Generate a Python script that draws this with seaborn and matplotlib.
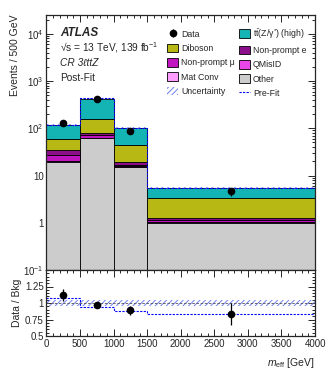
# Post-fit m_eff distribution in the CR 3l ttZ control region, with Data/Bkg ratio panel

import numpy as np
import pandas as pd
import matplotlib
matplotlib.use("Agg")
import matplotlib.pyplot as plt
import seaborn as sns
from matplotlib.patches import Patch
from matplotlib.lines import Line2D
from matplotlib.ticker import MultipleLocator, FixedLocator, FuncFormatter, LogLocator, NullFormatter

# Binning (GeV)
edges = [0, 500, 1000, 1500, 4000]
centers = [250, 750, 1250, 2750]

# Background yields per 500 GeV
other = [19.5, 61.0, 15.3, 1.00]
mat_conv = [0.4, 0.8, 0.2, 0.02]
qmisid = [0.5, 1.0, 0.3, 0.02]
np_mu = [7.0, 8.0, 1.3, 0.08]
np_e = [7.0, 10.0, 2.0, 0.13]
diboson = [24.0, 78.0, 25.0, 2.05]
ttz = [57.0, 268.0, 56.0, 2.20]

# Data and pre-fit
data = [127, 412, 88, 4.6]
data_err = [11.3, 20.3, 9.4, 0.96]
prefit_total = [118, 437, 101, 5.5]

# Ratio panel
ratio = [1.12, 0.97, 0.89, 0.83]
ratio_err = [0.09, 0.04, 0.07, 0.17]
prefit_ratio = [1.08, 0.94, 0.88, 0.84]
unc_ratio = [0.045, 0.045, 0.045, 0.045]

# stacked top -> bottom (seaborn puts the first hue level on top)
procs = ["ttZ", "Diboson", "Non-prompt e", "Non-prompt mu", "QMisID", "Mat Conv", "Other"]
yields = [ttz, diboson, np_e, np_mu, qmisid, mat_conv, other]
colors = {"ttZ": "#14b4b4", "Diboson": "#b8b814", "Non-prompt e": "#8b0f8b",
          "Non-prompt mu": "#c014c0", "QMisID": "#e846e8", "Mat Conv": "#ff9cff",
          "Other": "#cccccc"}

df = pd.DataFrame({
    "x": np.tile(centers, len(procs)),
    "w": np.concatenate(yields),
    "process": np.repeat(procs, len(centers)),
})

sns.set_style("ticks")
plt.rcParams["font.family"] = ["Liberation Sans", "DejaVu Sans"]
plt.rcParams["mathtext.fontset"] = "custom"
plt.rcParams["mathtext.rm"] = "Liberation Sans"
plt.rcParams["mathtext.it"] = "Liberation Sans:italic"
plt.rcParams["mathtext.bf"] = "Liberation Sans:bold"
plt.rcParams["hatch.linewidth"] = 0.7

fig = plt.figure(figsize=(3.32, 3.75), dpi=100)
ax = fig.add_axes([0.14, 0.28, 0.809, 0.68])
rax = fig.add_axes([0.14, 0.104, 0.809, 0.176])

ax.set_yscale("log")
sns.histplot(data=df, x="x", weights="w", hue="process", hue_order=procs,
             multiple="stack", bins=edges, palette=colors, alpha=1,
             edgecolor="black", linewidth=0.6, legend=False, ax=ax)

# uncertainty band + pre-fit outline on the stack
total = np.sum(yields, axis=0)
unc = np.array(unc_ratio)
unc_col = "#7080f0"
ax.fill_between(edges, np.append(total * (1 - unc), total[-1] * (1 - unc[-1])),
                np.append(total * (1 + unc), total[-1] * (1 + unc[-1])),
                step="post", facecolor="none", edgecolor=unc_col, hatch="//////", linewidth=0)
ax.stairs(prefit_total, edges, baseline=None, color="blue", linestyle=(0, (2, 1.2)), linewidth=0.8)
eb = ax.errorbar(centers, data, yerr=data_err, fmt="o", color="black", ms=4.5, elinewidth=0.9, capsize=0)

ax.set_xlim(0, 4000)
ax.set_ylim(0.1, 2.5e4)
ax.set_xlabel("")
ax.set_ylabel("Events / 500 GeV", fontsize=7.5, loc="top", labelpad=2)
ax.xaxis.set_major_locator(MultipleLocator(500))
ax.xaxis.set_minor_locator(MultipleLocator(100))
ax.tick_params(labelbottom=False)
ax.yaxis.set_major_locator(LogLocator(base=10, numticks=10))
ax.yaxis.set_minor_locator(LogLocator(base=10, subs=np.arange(2, 10), numticks=20))
ax.yaxis.set_minor_formatter(NullFormatter())
ylab = {0.1: "$10^{-1}$", 1: "1", 10: "10", 100: "$10^{2}$", 1000: "$10^{3}$", 10000: "$10^{4}$"}
ax.yaxis.set_major_formatter(FuncFormatter(lambda v, p: ylab.get(round(v, 3), "")))

for a in (ax, rax):
    a.tick_params(which="both", direction="in", top=True, right=True, labelsize=7, width=0.7, pad=2)
    a.tick_params(which="major", length=5)
    a.tick_params(which="minor", length=2.5)
    for s in a.spines.values():
        s.set_linewidth(0.9)

# text block
ax.text(0.05, 0.929, "ATLAS", transform=ax.transAxes, fontsize=8.5, fontweight="bold",
        fontstyle="italic", va="center")
ax.text(0.05, 0.871, "√s = 13 TeV, 139 fb$^{-1}$", transform=ax.transAxes, fontsize=7.3, va="center")
ax.text(0.05, 0.812, "CR 3ℓttZ", transform=ax.transAxes, fontsize=7.3, fontstyle="italic", va="center")
ax.text(0.05, 0.753, "Post-Fit", transform=ax.transAxes, fontsize=7.3, va="center")

# legend
def box(p):
    return Patch(facecolor=colors[p], edgecolor="black", linewidth=0.6)

handles = [eb, box("Diboson"), box("Non-prompt mu"), box("Mat Conv"),
           Patch(facecolor="none", edgecolor=unc_col, hatch="//////", linewidth=0),
           box("ttZ"), box("Non-prompt e"), box("QMisID"), box("Other"),
           Line2D([], [], color="blue", linestyle=(0, (2, 1.2)), linewidth=0.8)]
labels = ["Data", "Diboson", "Non-prompt μ", "Mat Conv", "Uncertainty",
          r"$\mathrm{t\bar{t}(Z/\gamma^{*})}$ (high)", "Non-prompt e", "QMisID", "Other", "Pre-Fit"]
ax.legend(handles, labels, ncol=2, loc="upper left", bbox_to_anchor=(0.449, 0.953),
          frameon=False, fontsize=6.3, borderpad=0, borderaxespad=0, handlelength=1.25,
          handleheight=1.15, handletextpad=0.35, columnspacing=0.45, labelspacing=0.57)

# ratio panel
rax.fill_between(edges, np.append(1 - unc, 1 - unc[-1]), np.append(1 + unc, 1 + unc[-1]),
                 step="post", facecolor="none", edgecolor=unc_col, hatch="//////", linewidth=0)
rax.axhline(1, color="#555555", linestyle=(0, (3, 2)), linewidth=0.6)
rax.stairs(prefit_ratio, edges, baseline=None, color="blue", linestyle=(0, (2, 1.2)), linewidth=0.8)
rax.errorbar(centers, ratio, yerr=ratio_err, fmt="o", color="black", ms=4.5, elinewidth=0.9, capsize=0)
rax.set_xlim(0, 4000)
rax.set_ylim(0.5, 1.5)
rax.xaxis.set_major_locator(MultipleLocator(500))
rax.xaxis.set_minor_locator(MultipleLocator(100))
rax.yaxis.set_major_locator(FixedLocator([0.5, 0.75, 1.0, 1.25]))
rax.yaxis.set_minor_locator(MultipleLocator(0.05))
rax.yaxis.set_major_formatter(FuncFormatter(lambda v, p: {0.5: "0.5", 0.75: "0.75", 1.0: "1", 1.25: "1.25"}.get(round(v, 2), "")))
rax.set_ylabel("Data / Bkg", fontsize=7.5, labelpad=2)
rax.set_xlabel(r"$m_{\mathrm{eff}}$ [GeV]", fontsize=7.5, loc="right", labelpad=5)

fig.savefig("out.png", dpi=100)
